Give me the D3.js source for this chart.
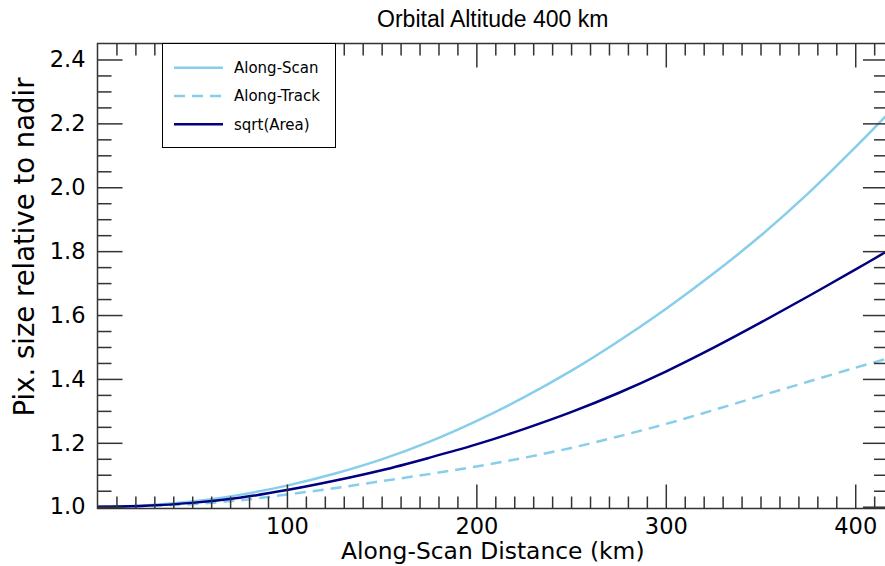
<!DOCTYPE html>
<html>
<head>
<meta charset="utf-8">
<script src="https://cdn.jsdelivr.net/npm/d3@7"></script>
<style>
  body { margin: 0; background: #fff; overflow: hidden; }
  svg { display: block; }
  .tick text { font-family: "DejaVu Sans", sans-serif; font-size: 22.5px; fill: #000; }
</style>
</head>
<body>
<script>
// distance along scan (km)
var distance = [0, 25, 50, 75, 100, 125, 150, 175, 200, 225, 250, 275, 300, 325, 350, 375, 400, 416];
// pixel size relative to nadir
var alongScan  = [1.000, 1.004, 1.016, 1.037, 1.066, 1.103, 1.148, 1.203, 1.268, 1.342, 1.425, 1.518, 1.619, 1.729, 1.848, 1.980, 2.125, 2.222];
var alongTrack = [1.000, 1.002, 1.008, 1.020, 1.038, 1.058, 1.080, 1.102, 1.126, 1.153, 1.184, 1.220, 1.259, 1.302, 1.347, 1.391, 1.435, 1.462];
var sqrtArea   = [1.000, 1.003, 1.012, 1.028, 1.052, 1.081, 1.114, 1.153, 1.195, 1.243, 1.296, 1.356, 1.423, 1.497, 1.576, 1.658, 1.742, 1.797];

var seriesNames = ["Along-Scan", "Along-Track", "sqrt(Area)"];
var xTicks = [100, 200, 300, 400];
var yTicks = [1.0, 1.2, 1.4, 1.6, 1.8, 2.0, 2.2, 2.4];

var width = 885, height = 566;
var plotL = 97.5, plotR = 888, plotT = 43.5, plotB = 508.5;

var svg = d3.select("body").append("svg")
    .attr("width", width)
    .attr("height", height);

var x = d3.scaleLinear().domain([0, 417.3]).range([plotL, plotR]);
var y = d3.scaleLinear().domain([0.9944, 2.45]).range([plotB, plotT]);

var series = [
  {name: seriesNames[0], values: alongScan,  color: "#87ceeb", dash: null},
  {name: seriesNames[1], values: alongTrack, color: "#87ceeb", dash: "11,7"},
  {name: seriesNames[2], values: sqrtArea,   color: "#000080", dash: null}
];

svg.append("clipPath").attr("id", "clip")
  .append("rect").attr("x", plotL).attr("y", plotT)
  .attr("width", plotR - plotL).attr("height", plotB - plotT);

var line = d3.line()
    .x(function(d) { return x(d[0]); })
    .y(function(d) { return y(d[1]); })
    .curve(d3.curveCatmullRom.alpha(0.5));

svg.append("g").attr("clip-path", "url(#clip)")
  .selectAll("path")
  .data(series)
  .enter()
  .append("path")
    .attr("d", function(s) { return line(d3.zip(distance, s.values)); })
    .attr("fill", "none")
    .attr("stroke", function(s) { return s.color; })
    .attr("stroke-width", 2.5)
    .attr("stroke-dasharray", function(s) { return s.dash; });

// axes: ticks point inward on all four sides
var axisColor = "#333";
var xMinor = d3.range(10, 417, 10).filter(function(v) { return v % 100 != 0; });
var yMinor = d3.range(1.05, 2.45, 0.05).filter(function(v) { return Math.abs(v * 5 - Math.round(v * 5)) > 0.01; });

function styleAxis(g) {
  g.select(".domain").remove();
  g.selectAll(".tick line").attr("stroke", axisColor).attr("stroke-width", 1.5);
}

svg.append("g").attr("transform", "translate(0," + plotB + ")")
  .call(d3.axisBottom(x).tickValues(xTicks).tickSize(-24).tickPadding(10).tickFormat(d3.format("d")))
  .call(styleAxis);
svg.append("g").attr("transform", "translate(0," + plotB + ")")
  .call(d3.axisBottom(x).tickValues(xMinor).tickSize(-12).tickFormat(""))
  .call(styleAxis);
svg.append("g").attr("transform", "translate(0," + plotT + ")")
  .call(d3.axisTop(x).tickValues(xTicks).tickSize(-24).tickFormat(""))
  .call(styleAxis);
svg.append("g").attr("transform", "translate(0," + plotT + ")")
  .call(d3.axisTop(x).tickValues(xMinor).tickSize(-12).tickFormat(""))
  .call(styleAxis);

svg.append("g").attr("transform", "translate(" + plotL + ",0)")
  .call(d3.axisLeft(y).tickValues(yTicks).tickSize(-25).tickPadding(12).tickFormat(d3.format(".1f")))
  .call(styleAxis);
svg.append("g").attr("transform", "translate(" + plotL + ",0)")
  .call(d3.axisLeft(y).tickValues(yMinor).tickSize(-14).tickFormat(""))
  .call(styleAxis);
svg.append("g").attr("transform", "translate(" + plotR + ",0)")
  .call(d3.axisRight(y).tickValues(yTicks).tickSize(-25).tickFormat(""))
  .call(styleAxis);
svg.append("g").attr("transform", "translate(" + plotR + ",0)")
  .call(d3.axisRight(y).tickValues(yMinor).tickSize(-14).tickFormat(""))
  .call(styleAxis);

svg.append("rect")
  .attr("x", plotL).attr("y", plotT)
  .attr("width", plotR - plotL).attr("height", plotB - plotT)
  .attr("fill", "none").attr("stroke", axisColor).attr("stroke-width", 1.5);

// titles
svg.append("text")
  .attr("x", (plotL + plotR) / 2).attr("y", 27)
  .attr("text-anchor", "middle")
  .style("font-family", "'Liberation Sans Narrow', 'Liberation Sans', sans-serif")
  .style("font-size", "23px")
  .text("Orbital Altitude 400 km");

svg.append("text")
  .attr("x", (plotL + plotR) / 2).attr("y", 559)
  .attr("text-anchor", "middle")
  .style("font-family", "'DejaVu Sans', sans-serif")
  .style("font-size", "23.4px")
  .text("Along-Scan Distance (km)");

svg.append("text")
  .attr("transform", "translate(34,247) rotate(-90)")
  .attr("text-anchor", "middle")
  .style("font-family", "'DejaVu Sans', sans-serif")
  .style("font-size", "27.5px")
  .text("Pix. size relative to nadir");

// legend
var legend = svg.append("g");
legend.append("rect")
  .attr("x", 162.5).attr("y", plotT)
  .attr("width", 173).attr("height", 104)
  .attr("fill", "#fff").attr("stroke", "#000").attr("stroke-width", 1);

var rows = legend.selectAll("g.row")
  .data(series)
  .enter()
  .append("g")
    .attr("class", "row")
    .attr("transform", function(s, i) { return "translate(0," + (67.7 + i * 28.3) + ")"; });

rows.append("line")
  .attr("x1", 174).attr("x2", 223)
  .attr("stroke", function(s) { return s.color; })
  .attr("stroke-width", 2.5)
  .attr("stroke-dasharray", function(s) { return s.dash; });

rows.append("text")
  .attr("x", 234).attr("dy", "0.35em")
  .style("font-family", "'DejaVu Sans', sans-serif")
  .style("font-size", "15px")
  .text(function(s) { return s.name; });
</script>
</body>
</html>
